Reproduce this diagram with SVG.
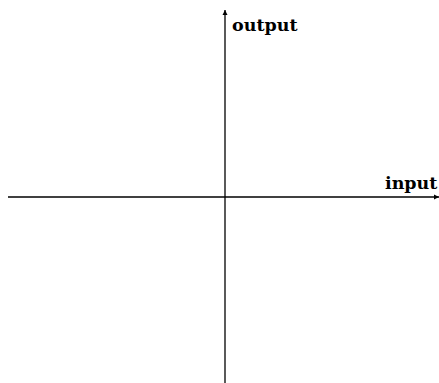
<svg xmlns="http://www.w3.org/2000/svg" width="439" height="383" viewBox="0 0 439 383">
<defs>
<marker id="ah" markerWidth="6" markerHeight="6" refX="5" refY="3" orient="auto" markerUnits="userSpaceOnUse">
<path d="M0,0.5 L5,3 L0,5.5 Z" fill="#000"/>
</marker>
<style>
.ax{stroke:#000;stroke-width:1.3;fill:none}
.lb{font-family:"DejaVu Serif","Liberation Serif",serif;font-weight:bold;font-size:17.5px;fill:#000}
</style>
</defs>
<g id="connectors">
<line class="ax" x1="225" y1="383" x2="225" y2="10" marker-end="url(#ah)"/>
<line class="ax" x1="8" y1="197" x2="439" y2="197" marker-end="url(#ah)"/>
</g>
<g id="output-label"><text class="lb" x="232" y="31">output</text></g>
<g id="input-label"><text class="lb" x="385" y="189">input</text></g>
</svg>
